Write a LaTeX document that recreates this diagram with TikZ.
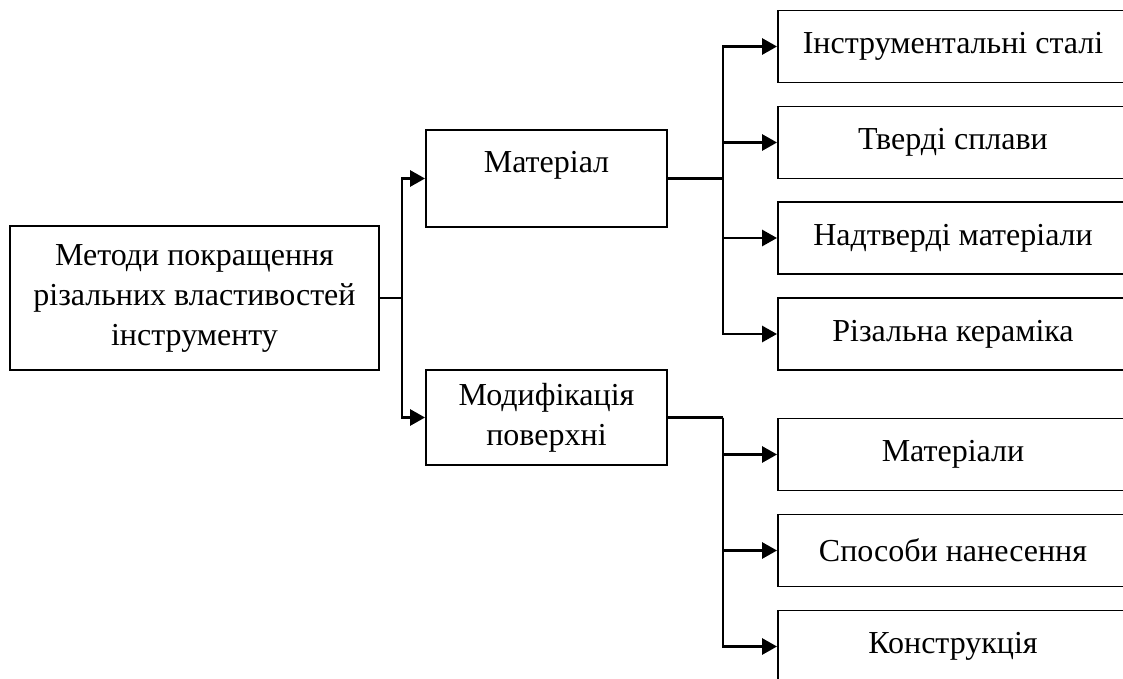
\documentclass[tikz,border=0pt]{standalone}
\usepackage{fontspec}
\setmainfont{Liberation Serif}
\usetikzlibrary{arrows.meta}

\begin{document}
\begin{tikzpicture}[x=1pt,y=-1pt,
  box/.style={draw,line width=1.9pt,align=center,inner sep=0pt,font=\fontsize{32}{40}\selectfont},
  sbox/.style={box,minimum width=350pt,minimum height=72pt},
  arr/.style={line width=2.8pt,-{Triangle[length=15pt,width=16pt]}},
  ln/.style={line width=2.8pt}]
\path[use as bounding box,clip] (0,0) rectangle (1123,679);
\node[box,minimum width=369pt,minimum height=144pt] (main) at (194.5,298) {Методи покращення\\різальних властивостей\\інструменту};
\node[box,minimum width=241pt,minimum height=97pt,text height=24pt,text depth=37pt] (mat) at (546.5,178.5) {Матеріал};
\node[box,minimum width=241pt,minimum height=95pt] (mod) at (546.5,417.5) {Модифікація\\поверхні};
\node[sbox] (s1) at (953,46.5) {Інструментальні сталі};
\node[sbox] (s2) at (953,142.5) {Тверді сплави};
\node[sbox] (s3) at (953,238) {Надтверді матеріали};
\node[sbox] (s4) at (953,334) {Різальна кераміка};
\node[sbox] (m1) at (953,454.5) {Матеріали};
\node[sbox] (m2) at (953,550.5) {Способи нанесення};
\node[sbox] (m3) at (953,646.5) {Конструкція};
\coordinate (jm) at ([xshift=22pt]main.east);
\coordinate (jmat) at ([xshift=55pt]mat.east);
\coordinate (jmod) at ([xshift=55pt]mod.east);
\draw[ln] (main.east) -- (jm);
\draw[arr] (jm) |- (mat.west);
\draw[arr] (jm) |- (mod.west);
\draw[ln] (mat.east) -- (jmat);
\draw[arr] (jmat) |- (s1.west);
\draw[arr] (jmat) |- (s2.west);
\draw[arr] (jmat) |- (s3.west);
\draw[arr] (jmat) |- (s4.west);
\draw[ln] (mod.east) -- (jmod);
\draw[arr] (jmod) |- (m1.west);
\draw[arr] (jmod) |- (m2.west);
\draw[arr] (jmod) |- (m3.west);
\end{tikzpicture}
\end{document}
